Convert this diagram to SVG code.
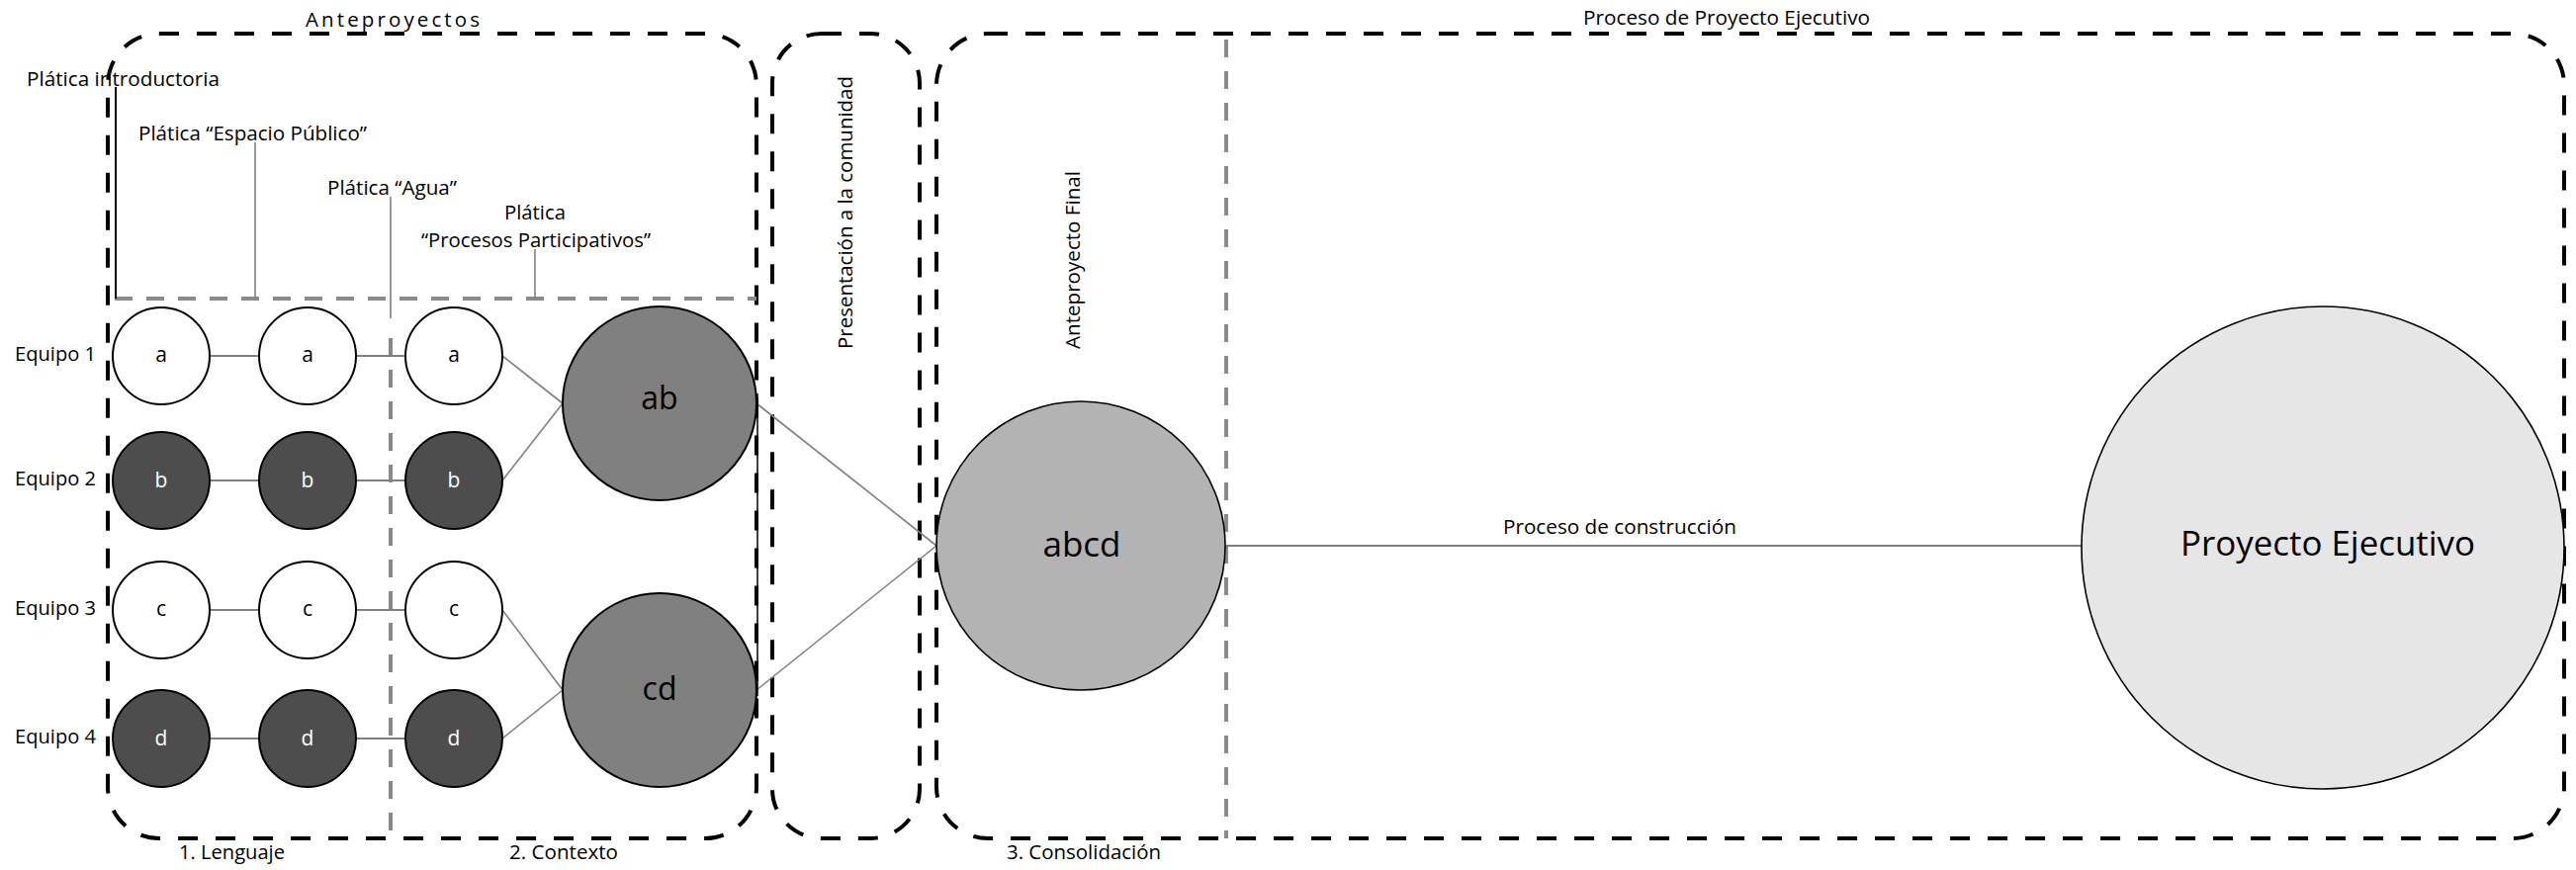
<svg xmlns="http://www.w3.org/2000/svg" width="2605" height="880" viewBox="0 0 2605 880">
  <style>
    text { font-family: "Open Sans", "Noto Sans", "Liberation Sans", sans-serif; fill: #000; }
    .lbl { font-size: 20.5px; }
    .small { font-size: 21px; text-anchor: middle; }
    .inv { fill: #fff; }
    .mid { font-size: 32px; text-anchor: middle; }
    .frame { fill: none; stroke: #000; stroke-width: 4; stroke-dasharray: 20 18; }
    .split { fill: none; stroke: #8a8a8a; stroke-width: 4; stroke-dasharray: 18 14; }
    .tick { stroke: #808080; stroke-width: 1.6; fill: none; }
    .link { stroke: #808080; stroke-width: 2; fill: none; }
    .diag { stroke: #808080; stroke-width: 1.6; fill: none; }
    .light { fill: #fff; stroke: #000; stroke-width: 2; }
    .dark { fill: #4d4d4d; stroke: #000; stroke-width: 2; }
    .merge { fill: #808080; stroke: #000; stroke-width: 2; }
  </style>

  <rect width="2605" height="880" fill="#fff"/>

  <!-- phase frames -->
  <g id="frames">
    <rect class="frame" x="109" y="34" width="656" height="814" rx="52" ry="52"/>
    <rect class="frame" x="781" y="34" width="149" height="814" rx="50" ry="50"/>
    <rect class="frame" x="947" y="34" width="1646" height="814" rx="52" ry="52"/>
    <text class="lbl" x="309" y="27" textLength="176" lengthAdjust="spacing">Anteproyectos</text>
    <text class="lbl" x="1601" y="25" textLength="290" lengthAdjust="spacingAndGlyphs">Proceso de Proyecto Ejecutivo</text>
    <text class="lbl" x="181" y="869" textLength="107" lengthAdjust="spacingAndGlyphs">1. Lenguaje</text>
    <text class="lbl" x="515" y="869" textLength="110" lengthAdjust="spacingAndGlyphs">2. Contexto</text>
    <text class="lbl" x="1018" y="869" textLength="156" lengthAdjust="spacingAndGlyphs">3. Consolidación</text>
    <text class="lbl" transform="translate(862 353) rotate(-90)" textLength="276" lengthAdjust="spacingAndGlyphs">Presentación a la comunidad</text>
    <text class="lbl" transform="translate(1092 353) rotate(-90)" textLength="180" lengthAdjust="spacingAndGlyphs">Anteproyecto Final</text>
  </g>

  <!-- section dividers -->
  <g id="dividers">
    <line class="split" x1="116" y1="302" x2="765" y2="302"/>
    <line class="split" x1="395" y1="342" x2="395" y2="848"/>
    <line class="split" x1="1240" y1="40" x2="1240" y2="848"/>
  </g>

  <!-- talks -->
  <g id="talks">
    <text class="lbl" x="27" y="87" textLength="195" lengthAdjust="spacingAndGlyphs">Plática introductoria</text>
    <line x1="117" y1="88" x2="117" y2="302" stroke="#000" stroke-width="2"/>
    <text class="lbl" x="140" y="142" textLength="231" lengthAdjust="spacingAndGlyphs">Plática “Espacio Público”</text>
    <line class="tick" x1="258" y1="144" x2="258" y2="302"/>
    <text class="lbl" x="331" y="197" textLength="131" lengthAdjust="spacingAndGlyphs">Plática “Agua”</text>
    <line class="tick" x1="395" y1="199" x2="395" y2="322" stroke-width="2.2"/>
    <text class="lbl" x="510" y="222" textLength="62" lengthAdjust="spacingAndGlyphs">Plática</text>
    <text class="lbl" x="426" y="250" textLength="232" lengthAdjust="spacingAndGlyphs">“Procesos Participativos”</text>
    <line class="tick" x1="541" y1="252" x2="541" y2="302"/>
  </g>

  <!-- team labels -->
  <g id="teams">
    <text class="lbl" x="15" y="365" textLength="82" lengthAdjust="spacingAndGlyphs">Equipo 1</text>
    <text class="lbl" x="15" y="491" textLength="82" lengthAdjust="spacingAndGlyphs">Equipo 2</text>
    <text class="lbl" x="15" y="622" textLength="82" lengthAdjust="spacingAndGlyphs">Equipo 3</text>
    <text class="lbl" x="15" y="752" textLength="82" lengthAdjust="spacingAndGlyphs">Equipo 4</text>
  </g>

  <!-- connectors -->
  <g id="connectors">
    <line class="link" x1="212" y1="360" x2="262" y2="360"/>
    <line class="link" x1="360" y1="360" x2="410" y2="360"/>
    <line class="link" x1="212" y1="486" x2="262" y2="486"/>
    <line class="link" x1="360" y1="486" x2="410" y2="486"/>
    <line class="link" x1="212" y1="617" x2="262" y2="617"/>
    <line class="link" x1="360" y1="617" x2="410" y2="617"/>
    <line class="link" x1="212" y1="747" x2="262" y2="747"/>
    <line class="link" x1="360" y1="747" x2="410" y2="747"/>
    <line class="diag" x1="508" y1="360" x2="569" y2="408"/>
    <line class="diag" x1="508" y1="486" x2="569" y2="408"/>
    <line class="diag" x1="508" y1="617" x2="569" y2="698"/>
    <line class="diag" x1="508" y1="747" x2="569" y2="698"/>
    <line class="diag" x1="765" y1="408" x2="947" y2="552"/>
    <line class="diag" x1="765" y1="698" x2="947" y2="552"/>
    <line class="link" x1="1240" y1="552" x2="2106" y2="552"/>
    <line x1="766" y1="398" x2="766" y2="704" stroke="#000" stroke-width="1.5"/>
    <text class="lbl" x="1520" y="540" textLength="236" lengthAdjust="spacingAndGlyphs">Proceso de construcción</text>
  </g>

  <!-- Equipo 1 -->
  <g id="a1"><circle class="light" cx="163" cy="360" r="49"/><text class="small" x="163" y="366">a</text></g>
  <g id="a2"><circle class="light" cx="311" cy="360" r="49"/><text class="small" x="311" y="366">a</text></g>
  <g id="a3"><circle class="light" cx="459" cy="360" r="49"/><text class="small" x="459" y="366">a</text></g>
  <!-- Equipo 2 -->
  <g id="b1"><circle class="dark" cx="163" cy="486" r="49"/><text class="small inv" x="163" y="493">b</text></g>
  <g id="b2"><circle class="dark" cx="311" cy="486" r="49"/><text class="small inv" x="311" y="493">b</text></g>
  <g id="b3"><circle class="dark" cx="459" cy="486" r="49"/><text class="small inv" x="459" y="493">b</text></g>
  <!-- Equipo 3 -->
  <g id="c1"><circle class="light" cx="163" cy="617" r="49"/><text class="small" x="163" y="623">c</text></g>
  <g id="c2"><circle class="light" cx="311" cy="617" r="49"/><text class="small" x="311" y="623">c</text></g>
  <g id="c3"><circle class="light" cx="459" cy="617" r="49"/><text class="small" x="459" y="623">c</text></g>
  <!-- Equipo 4 -->
  <g id="d1"><circle class="dark" cx="163" cy="747" r="49"/><text class="small inv" x="163" y="754">d</text></g>
  <g id="d2"><circle class="dark" cx="311" cy="747" r="49"/><text class="small inv" x="311" y="754">d</text></g>
  <g id="d3"><circle class="dark" cx="459" cy="747" r="49"/><text class="small inv" x="459" y="754">d</text></g>

  <!-- merged proposals -->
  <g id="ab"><circle class="merge" cx="667" cy="408" r="98"/><text class="mid" x="667" y="414">ab</text></g>
  <g id="cd"><circle class="merge" cx="667" cy="698" r="98"/><text class="mid" x="667" y="708">cd</text></g>

  <!-- final proposal -->
  <g id="abcd"><circle cx="1093" cy="552" r="146" fill="#b3b3b3" stroke="#000" stroke-width="1.6"/><text x="1094" y="563" font-size="35" text-anchor="middle">abcd</text></g>

  <!-- executive project -->
  <g id="proyecto-ejecutivo"><circle cx="2349" cy="554" r="244" fill="#e6e6e6" stroke="#000" stroke-width="1.6"/><text x="2205" y="562" font-size="35" textLength="298" lengthAdjust="spacingAndGlyphs">Proyecto Ejecutivo</text></g>
</svg>
